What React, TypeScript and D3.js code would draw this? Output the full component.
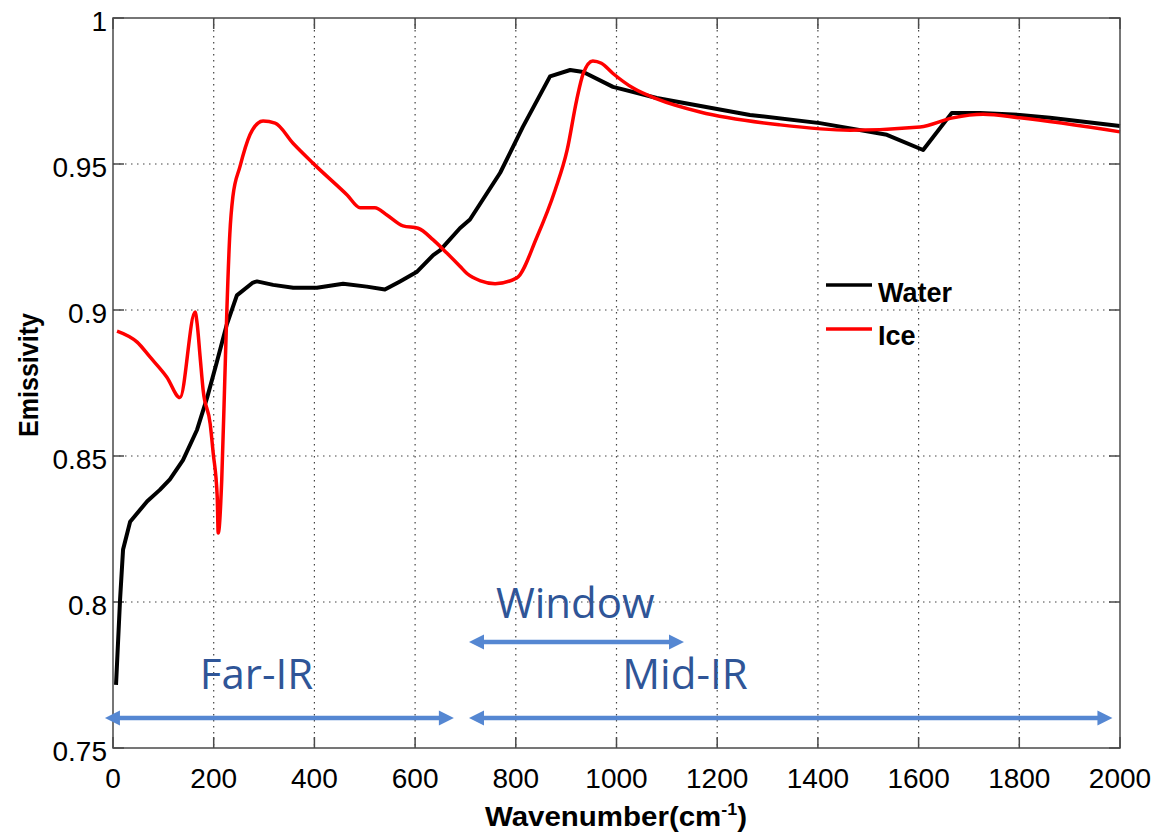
import React from "react";
import * as d3 from "d3";

const waterWn = [6, 14, 20, 34, 68, 93, 113, 139, 167, 187, 206, 226, 246, 278, 286, 318, 358, 405, 457, 504, 540, 570, 603, 636, 650, 689, 709, 769, 814, 868, 908, 934, 993, 1080, 1265, 1404, 1537, 1609, 1666, 1722, 1801, 1861, 2000];
const waterEm = [0.7716, 0.8007, 0.818, 0.8275, 0.8345, 0.8384, 0.842, 0.8486, 0.859, 0.87, 0.882, 0.895, 0.905, 0.9094, 0.9098, 0.9086, 0.9076, 0.9076, 0.909, 0.908, 0.907, 0.9098, 0.913, 0.9188, 0.9205, 0.928, 0.931, 0.947, 0.9627, 0.98, 0.9822, 0.9815, 0.9764, 0.9726, 0.9668, 0.964, 0.96, 0.9548, 0.9675, 0.9675, 0.9668, 0.9658, 0.963];

const iceWn = [8, 48, 73, 107, 133, 163, 167, 173, 179, 193, 199, 207, 209, 216, 222, 226, 232, 238, 252, 272, 288, 298, 322, 358, 397, 465, 491, 520, 544, 576, 606, 636, 663, 689, 703, 730, 759, 802, 842, 878, 902, 921, 934, 953, 970, 993, 1033, 1080, 1166, 1325, 1464, 1603, 1668, 1728, 1801, 2000];
const iceEm = [0.8928, 0.889, 0.884, 0.877, 0.87, 0.8993, 0.8955, 0.884, 0.8726, 0.861, 0.851, 0.836, 0.8236, 0.842, 0.876, 0.899, 0.926, 0.9387, 0.949, 0.96, 0.964, 0.9647, 0.964, 0.957, 0.9503, 0.9394, 0.935, 0.935, 0.9325, 0.9288, 0.928, 0.924, 0.9195, 0.915, 0.9125, 0.91, 0.909, 0.911, 0.925, 0.941, 0.9548, 0.972, 0.981, 0.9853, 0.9845, 0.981, 0.976, 0.9723, 0.9678, 0.9634, 0.9616, 0.9627, 0.9658, 0.967, 0.9658, 0.961];

const xTicks = [0, 200, 400, 600, 800, 1000, 1200, 1400, 1600, 1800, 2000];
const yTicks = [0.75, 0.8, 0.85, 0.9, 0.95, 1];
const yTickLabels = ["0.75", "0.8", "0.85", "0.9", "0.95", "1"];

const seriesNames = ["Water", "Ice"];
const seriesColors = ["#000000", "#ff0000"];

// annotation ranges in data units
const bandNames = ["Far-IR", "Mid-IR", "Window"];
const bandStart = [-16, 707, 707];
const bandEnd = [677, 1985, 1134];
const bandLevel = [0.7603, 0.7603, 0.7863];
const bandLabelX = [285, 1136, 918];
const bandLabelY = [0.7703, 0.7703, 0.7946];

const W = 1154;
const H = 836;
const left = 113;
const right = 1120;
const top = 18;
const bottom = 748;

export default function App() {
  const x = d3.scaleLinear().domain([0, 2000]).range([left, right]);
  const y = d3.scaleLinear().domain([0.75, 1]).range([bottom, top]);

  const waterData = waterWn.map((w, i) => [w, waterEm[i]] as [number, number]);
  const iceData = iceWn.map((w, i) => [w, iceEm[i]] as [number, number]);

  const lineLin = d3.line<[number, number]>().x((d) => x(d[0])).y((d) => y(d[1]));
  const lineSmooth = d3
    .line<[number, number]>()
    .x((d) => x(d[0]))
    .y((d) => y(d[1]))
    .curve(d3.curveMonotoneX);

  const axisColor = "#4a4a4a";
  const tickLen = 11;
  const blueLine = "#5587d2";
  const blueText = "#2f5597";
  const font = "'Liberation Sans', Arial, Helvetica, sans-serif";

  const arrow = (i: number) => {
    const x1 = x(bandStart[i]);
    const x2 = x(bandEnd[i]);
    const yy = y(bandLevel[i]);
    const hl = 15;
    const hw = 7.5;
    return (
      <g key={"arr" + i}>
        <line x1={x1 + hl - 2} x2={x2 - hl + 2} y1={yy} y2={yy} stroke={blueLine} strokeWidth={4.5} />
        <path d={`M${x1},${yy} L${x1 + hl},${yy - hw} L${x1 + hl},${yy + hw} Z`} fill={blueLine} />
        <path d={`M${x2},${yy} L${x2 - hl},${yy - hw} L${x2 - hl},${yy + hw} Z`} fill={blueLine} />
      </g>
    );
  };

  return (
    <svg
      width={W}
      height={H}
      style={{ position: "fixed", left: 0, top: 0, background: "#fff" }}
      fontFamily={font}
    >
      <rect x={0} y={0} width={W} height={H} fill="#fff" />
      {/* grid */}
      <g stroke="#444" strokeWidth={1.2} strokeDasharray="1.5,4.5">
        {xTicks.slice(1, -1).map((t) => (
          <line key={"gx" + t} x1={x(t)} x2={x(t)} y1={top} y2={bottom} />
        ))}
        {yTicks.slice(1, -1).map((t) => (
          <line key={"gy" + t} x1={left} x2={right} y1={y(t)} y2={y(t)} />
        ))}
      </g>
      {/* ticks */}
      <g stroke={axisColor} strokeWidth={1.5}>
        {xTicks.map((t) => (
          <g key={"tx" + t}>
            <line x1={x(t)} x2={x(t)} y1={bottom} y2={bottom - tickLen} />
            <line x1={x(t)} x2={x(t)} y1={top} y2={top + tickLen} />
          </g>
        ))}
        {yTicks.map((t) => (
          <g key={"ty" + t}>
            <line x1={left} x2={left + tickLen} y1={y(t)} y2={y(t)} />
            <line x1={right} x2={right - tickLen} y1={y(t)} y2={y(t)} />
          </g>
        ))}
      </g>
      {/* tick labels */}
      <g fontSize={28} fill="#000">
        {xTicks.map((t) => (
          <text key={"lx" + t} x={x(t)} y={788} textAnchor="middle">
            {t}
          </text>
        ))}
        {yTicks.map((t, i) => (
          <text key={"ly" + t} x={107} y={y(t) + 13} textAnchor="end">
            {yTickLabels[i]}
          </text>
        ))}
      </g>
      {/* data */}
      <path d={lineLin(waterData) || ""} fill="none" stroke={seriesColors[0]} strokeWidth={4} strokeLinejoin="round" />
      <path d={lineSmooth(iceData) || ""} fill="none" stroke={seriesColors[1]} strokeWidth={3.5} strokeLinejoin="round" />
      {/* box */}
      <rect x={left} y={top} width={right - left} height={bottom - top} fill="none" stroke={axisColor} strokeWidth={1.5} />
      {/* legend */}
      <g>
        {seriesNames.map((n, i) => (
          <g key={n}>
            <line x1={826} x2={872} y1={285 + i * 44} y2={285 + i * 44} stroke={seriesColors[i]} strokeWidth={3.5} />
            <text x={878} y={302 + i * 43} fontSize={27} fontWeight="bold" fill="#000">
              {n}
            </text>
          </g>
        ))}
      </g>
      {/* annotations */}
      {bandNames.map((_, i) => arrow(i))}
      {bandNames.map((n, i) => (
        <text
          key={"bt" + n}
          x={x(bandLabelX[i])}
          y={y(bandLabelY[i])}
          textAnchor="middle"
          fontSize={42}
          fill={blueText}
          fontFamily="'Open Sans', 'Noto Sans', sans-serif"
        >
          {n}
        </text>
      ))}
      {/* axis titles */}
      <text x={616} y={826} textAnchor="middle" fontSize={28} fontWeight="bold" textLength={262} lengthAdjust="spacingAndGlyphs">
        Wavenumber(cm<tspan dy={-11} fontSize={17}>-1</tspan>
        <tspan dy={11}>)</tspan>
      </text>
      <text
        transform={`translate(38,375) rotate(-90)`}
        textAnchor="middle"
        fontSize={27}
        fontWeight="bold"
        textLength={124}
        lengthAdjust="spacingAndGlyphs"
      >
        Emissivity
      </text>
    </svg>
  );
}
